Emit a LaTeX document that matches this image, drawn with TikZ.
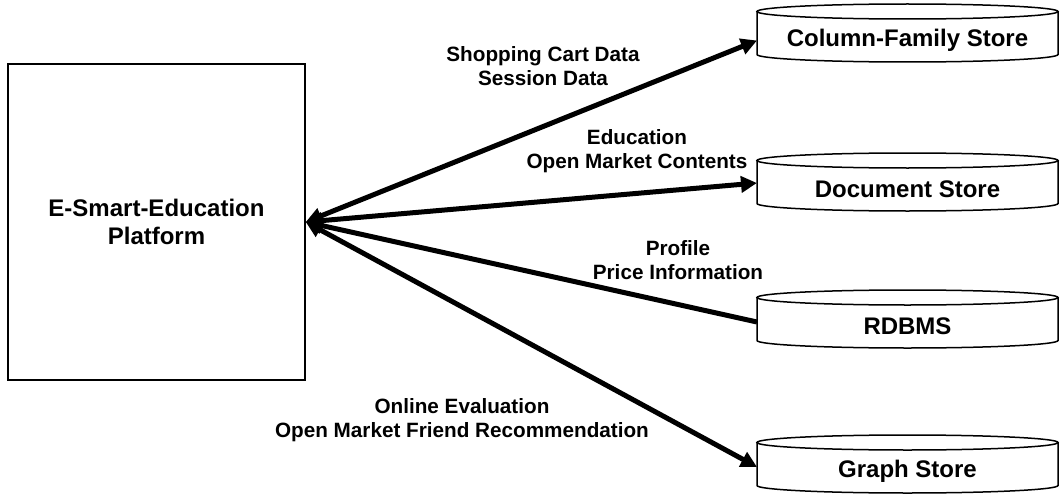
\documentclass[tikz,border=0pt]{standalone}
\usepackage{fontspec}
\setmainfont{Liberation Sans}
\usepackage{tikz}
\usetikzlibrary{positioning, arrows.meta}

\begin{document}
\begin{tikzpicture}[x=0.5pt, y=0.5pt,
    >={Triangle[length=8pt, width=8pt]},
    platform/.style={draw, line width=0.75pt, minimum width=148.5pt, minimum height=158pt,
      align=center, font=\fontsize{12}{14}\selectfont\bfseries},
    store/.style={minimum width=150.5pt, minimum height=21.5pt, inner sep=0pt, outer sep=0pt,
      font=\fontsize{12}{14}\selectfont\bfseries},
    flow/.style={align=center, font=\fontsize{10.35}{12.2}\selectfont\bfseries},
    link/.style={line width=2.5pt}]
  \useasboundingbox (0,0) rectangle (1061,494);

  \node[platform] (box) at (156.5, 272) {E-Smart-Education\\Platform};

  \node[store] (cf) at (907.5, 453.5) {Column-Family Store};
  \node[store] (doc) at (907.5, 304.5) {Document Store};
  \node[store] (rdb) at (907.5, 167.5) {RDBMS};
  \node[store] (graph) at (907.5, 22.5) {Graph Store};

  % cylinder outlines round the store nodes
  \foreach \s in {cf, doc, rdb, graph} {
    \draw[line width=0.75pt] (\s.north west) ++(0,7.5) -- ++(0,-43)
      arc[start angle=180, end angle=360, x radius=150.5, y radius=7.5] -- ++(0,43);
    \draw[line width=0.75pt] ([yshift=3.75pt]\s.north) ellipse [x radius=150.5, y radius=7.5];
  }

  \draw[link, <->] (box.east) -- (cf.west);
  \draw[link, <->] (box.east) -- ([yshift=3.25pt]doc.west);
  \draw[link, <-] (box.east) -- ([yshift=2.25pt]rdb.west);
  \draw[link, <->] (box.east) -- ([yshift=2.25pt]graph.west);

  \node[flow] (l1) at (543, 428) {Shopping Cart Data\\Session Data};
  \node[flow] (l2) at (637, 343) {Education\\Open Market Contents};
  \node[flow] (l3) at (678, 234) {Profile\\Price Information};
  \node[flow] (l4) at (462, 74) {Online Evaluation\\Open Market Friend Recommendation};
\end{tikzpicture}
\end{document}
